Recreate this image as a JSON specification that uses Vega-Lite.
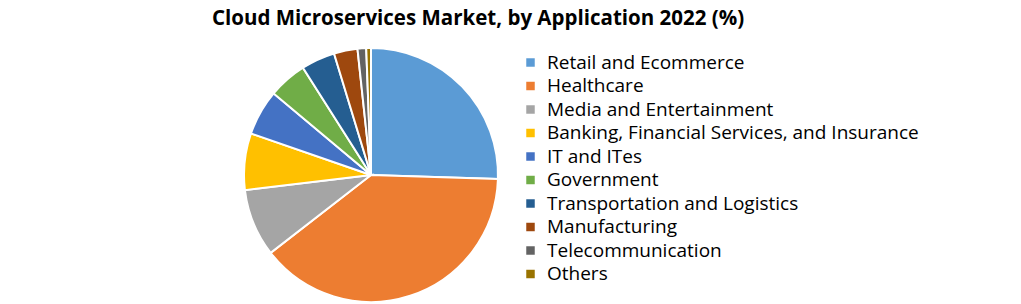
{
  "$schema": "https://vega.github.io/schema/vega-lite/v6.json",
  "width": 254,
  "height": 254,
  "autosize": {"type": "none"},
  "padding": {"left": 244, "top": 48, "right": 523, "bottom": 2},
  "background": "white",
  "title": {
    "text": "Cloud Microservices Market, by Application 2022 (%)",
    "anchor": "middle",
    "dx": 107,
    "offset": 15,
    "limit": 800,
    "font": "Open Sans",
    "fontSize": 20.5,
    "fontWeight": "bold",
    "color": "black"
  },
  "data": {
    "values": [
      {"application": "Retail and Ecommerce", "share": 25.5, "order": 1},
      {"application": "Healthcare", "share": 39.0, "order": 2},
      {"application": "Media and Entertainment", "share": 8.6, "order": 3},
      {"application": "Banking, Financial Services, and Insurance", "share": 7.2, "order": 4},
      {"application": "IT and ITes", "share": 5.8, "order": 5},
      {"application": "Government", "share": 4.9, "order": 6},
      {"application": "Transportation and Logistics", "share": 4.3, "order": 7},
      {"application": "Manufacturing", "share": 3.0, "order": 8},
      {"application": "Telecommunication", "share": 1.1, "order": 9},
      {"application": "Others", "share": 0.6, "order": 10}
    ]
  },
  "mark": {"type": "arc", "stroke": "white", "strokeWidth": 2, "outerRadius": 127},
  "encoding": {
    "theta": {"field": "share", "type": "quantitative", "stack": true},
    "order": {"field": "order", "type": "quantitative"},
    "color": {
      "field": "application",
      "type": "nominal",
      "sort": null,
      "scale": {
        "domain": ["Retail and Ecommerce", "Healthcare", "Media and Entertainment", "Banking, Financial Services, and Insurance", "IT and ITes", "Government", "Transportation and Logistics", "Manufacturing", "Telecommunication", "Others"],
        "range": ["#5B9BD5", "#ED7D31", "#A5A5A5", "#FFC000", "#4472C4", "#70AD47", "#255E91", "#9E480E", "#636363", "#997300"]
      },
      "legend": {
        "title": null,
        "orient": "none",
        "legendX": 277,
        "legendY": 5,
        "symbolType": "square",
        "symbolSize": 72,
        "symbolStrokeWidth": 0,
        "labelFont": "Open Sans",
        "labelFontSize": 19,
        "labelColor": "black",
        "labelOffset": 7,
        "rowPadding": 3.5,
        "labelLimit": 500,
        "padding": 0
      }
    }
  },
  "config": {"view": {"stroke": null}}
}
